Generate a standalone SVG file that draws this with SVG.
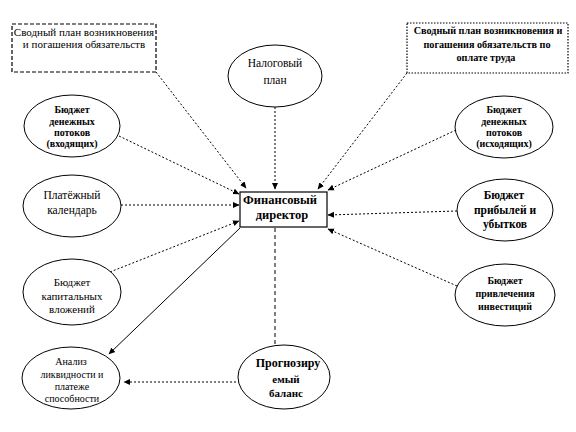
<svg xmlns="http://www.w3.org/2000/svg" width="576" height="432" viewBox="0 0 576 432">
<defs>
<marker id="ah" markerWidth="7" markerHeight="7" refX="6" refY="3.5" orient="auto" markerUnits="userSpaceOnUse">
<path d="M0,0.5 L6.5,3.5 L0,6.5 z" fill="#000"/>
</marker>
</defs>
<style>
.e{fill:#fff;stroke:#000;stroke-width:1}
.d{fill:none;stroke:#000;stroke-width:1;stroke-dasharray:2 2;marker-end:url(#ah)}
.l{fill:none;stroke:#000;stroke-width:1;marker-end:url(#ah)}
</style>
<rect width="576" height="432" fill="#fff"/>
<g id="connectors">
<line class="d" x1="156" y1="72" x2="246" y2="188"/>
<line class="d" x1="275" y1="107" x2="275" y2="189"/>
<line class="d" x1="407" y1="73" x2="318" y2="189"/>
<line class="d" x1="119" y1="136" x2="239" y2="194"/>
<line class="d" x1="121" y1="205" x2="239" y2="205"/>
<line class="d" x1="110" y1="272" x2="239" y2="221"/>
<line class="d" x1="456" y1="130" x2="328" y2="190"/>
<line class="d" x1="457" y1="211" x2="328" y2="215"/>
<line class="d" x1="457" y1="286" x2="328" y2="229"/>
<line class="l" x1="240" y1="228" x2="109" y2="354"/>
<line x1="275" y1="228" x2="275" y2="346" stroke="#000" stroke-width="1" stroke-dasharray="4 3"/>
<line class="d" x1="240" y1="382" x2="124" y2="382"/>
</g>
<g font-family="Liberation Serif" text-anchor="middle" fill="#000">
<g id="n-svod1" font-size="11">
<rect x="12" y="24" width="144" height="48" fill="#fff" stroke="#000" stroke-width="1.2" stroke-dasharray="4 2"/>
<text x="84" y="36">Сводный план возникновения</text>
<text x="84" y="48">и погашения обязательств</text>
</g>
<g id="n-svod2" font-size="10.2" font-weight="bold">
<rect x="407" y="23" width="161" height="50" fill="#fff" stroke="#000" stroke-width="1.2" stroke-dasharray="1.5 1.5"/>
<text x="488" y="34">Сводный план возникновения и</text>
<text x="487" y="48">погашения обязательств по</text>
<text x="486" y="61">оплате труда</text>
</g>
<g id="n-nalog" font-size="11.5">
<ellipse class="e" cx="275" cy="76" rx="47" ry="31"/>
<text x="275" y="67">Налоговый</text>
<text x="275" y="84">план</text>
</g>
<g id="n-bdp-in" font-size="10" font-weight="bold">
<ellipse class="e" cx="72" cy="126" rx="48" ry="31"/>
<text x="72" y="113">Бюджет</text>
<text x="72" y="125">денежных</text>
<text x="72" y="136">потоков</text>
<text x="72" y="147">(входящих)</text>
</g>
<g id="n-bdp-out" font-size="10" font-weight="bold">
<ellipse class="e" cx="504" cy="127" rx="49" ry="31"/>
<text x="504" y="113">Бюджет</text>
<text x="504" y="125">денежных</text>
<text x="504" y="136">потоков</text>
<text x="504" y="147">(исходящих)</text>
</g>
<g id="n-plat" font-size="11.5">
<ellipse class="e" cx="72" cy="206" rx="49" ry="31"/>
<text x="72" y="199">Платёжный</text>
<text x="72" y="214">календарь</text>
</g>
<g id="n-director" font-size="12.5" font-weight="bold">
<rect x="240" y="192" width="87" height="35" fill="#fff" stroke="#000" stroke-width="1.2"/>
<text x="280" y="204">Финансовый</text>
<text x="282" y="219">директор</text>
</g>
<g id="n-pribyl" font-size="11.5" font-weight="bold">
<ellipse class="e" cx="505" cy="210" rx="48" ry="31"/>
<text x="504" y="199">Бюджет</text>
<text x="505" y="214">прибылей и</text>
<text x="505" y="228">убытков</text>
</g>
<g id="n-kapital" font-size="11">
<ellipse class="e" cx="72" cy="292" rx="49" ry="33"/>
<text x="72" y="286">Бюджет</text>
<text x="72" y="300">капитальных</text>
<text x="72" y="313">вложений</text>
</g>
<g id="n-invest" font-size="10" font-weight="bold">
<ellipse class="e" cx="505" cy="295" rx="50" ry="31"/>
<text x="505" y="284">Бюджет</text>
<text x="505" y="297">привлечения</text>
<text x="505" y="310">инвестиций</text>
</g>
<g id="n-analiz" font-size="10">
<ellipse class="e" cx="71" cy="378" rx="49" ry="31"/>
<text x="71" y="365">Анализ</text>
<text x="72" y="378">ликвидности и</text>
<text x="72" y="390">платеже</text>
<text x="72" y="402">способности</text>
</g>
<g id="n-prognoz" font-size="11" font-weight="bold">
<ellipse class="e" cx="284" cy="377" rx="46" ry="32"/>
<text x="288" y="367" font-size="12">Прогнозиру</text>
<text x="286" y="383">емый</text>
<text x="286" y="397">баланс</text>
</g>
</g>
</svg>
